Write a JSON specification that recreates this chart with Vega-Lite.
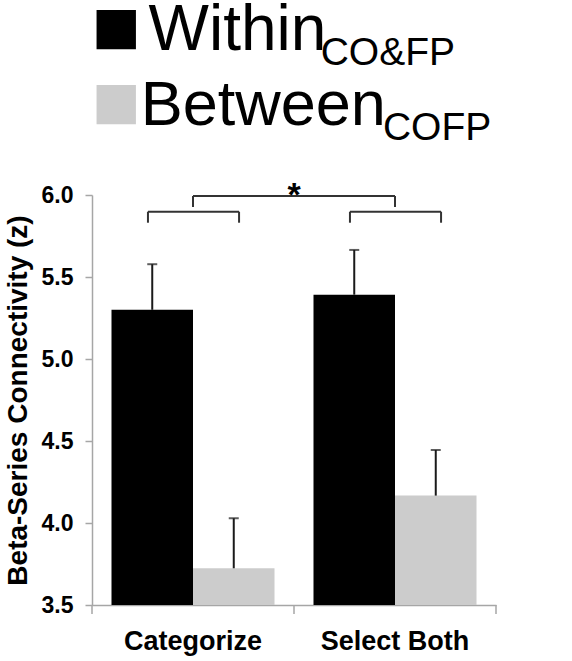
{
  "$schema": "https://vega.github.io/schema/vega-lite/v6.json",
  "width": 404,
  "height": 410,
  "autosize": {"type": "none"},
  "padding": {"left": 92, "top": 195, "right": 76, "bottom": 56},
  "background": "white",
  "config": {
    "view": {"stroke": null},
    "font": "Liberation Sans",
    "axisY": {
      "domainColor": "#a6a6a6",
      "domainWidth": 1.5,
      "tickColor": "#a6a6a6",
      "tickWidth": 1.5,
      "tickSize": 7,
      "labelFontSize": 23,
      "labelFontWeight": "bold",
      "labelColor": "#000000",
      "labelPadding": 12,
      "grid": false,
      "titleFontSize": 28,
      "titleFontWeight": "bold",
      "titleColor": "#000000",
      "titlePadding": 9
    },
    "axisX": {
      "domainColor": "#a6a6a6",
      "domainWidth": 1.5,
      "ticks": false,
      "labelFontSize": 27,
      "labelFontWeight": "bold",
      "labelColor": "#000000",
      "labelPadding": 23,
      "labelAngle": 0,
      "grid": false
    }
  },
  "datasets": {
    "bars": [
      {"task": "Categorize", "cond": "Within", "mean": 5.30, "hi": 5.578},
      {"task": "Categorize", "cond": "Between", "mean": 3.724, "hi": 4.029},
      {"task": "Select Both", "cond": "Within", "mean": 5.392, "hi": 5.665},
      {"task": "Select Both", "cond": "Between", "mean": 4.167, "hi": 4.445}
    ],
    "brackets": [
      {"x": 0.277, "x2": 0.728, "y": 5.898, "y2": 5.898},
      {"x": 0.277, "x2": 0.277, "y": 5.898, "y2": 5.831},
      {"x": 0.728, "x2": 0.728, "y": 5.898, "y2": 5.831},
      {"x": 1.277, "x2": 1.728, "y": 5.898, "y2": 5.898},
      {"x": 1.277, "x2": 1.277, "y": 5.898, "y2": 5.831},
      {"x": 1.728, "x2": 1.728, "y": 5.898, "y2": 5.831},
      {"x": 0.5, "x2": 1.5, "y": 5.994, "y2": 5.994},
      {"x": 0.5, "x2": 0.5, "y": 5.994, "y2": 5.927},
      {"x": 1.5, "x2": 1.5, "y": 5.994, "y2": 5.927}
    ],
    "xticks": [
      {"x": 0, "y": 3.5, "y2": 3.445},
      {"x": 1, "y": 3.5, "y2": 3.445},
      {"x": 2, "y": 3.5, "y2": 3.445}
    ]
  },
  "layer": [
    {
      "data": {"name": "bars"},
      "encoding": {
        "x": {
          "field": "task",
          "type": "nominal",
          "sort": ["Categorize", "Select Both"],
          "title": null,
          "scale": {"paddingInner": 0.193, "paddingOuter": 0.0965}
        },
        "xOffset": {
          "field": "cond",
          "type": "nominal",
          "sort": ["Within", "Between"],
          "scale": {"paddingInner": 0, "paddingOuter": 0}
        }
      },
      "layer": [
        {
          "mark": {"type": "bar"},
          "encoding": {
            "y": {
              "field": "mean",
              "type": "quantitative",
              "title": "Beta-Series Connectivity (z)",
              "scale": {"domain": [3.5, 6.0], "nice": false, "zero": false},
              "axis": {"values": [3.5, 4.0, 4.5, 5.0, 5.5, 6.0], "format": ".1f"}
            },
            "y2": {"datum": 3.5},
            "color": {
              "field": "cond",
              "type": "nominal",
              "scale": {"domain": ["Within", "Between"], "range": ["#000000", "#cccccc"]},
              "legend": null
            }
          }
        },
        {
          "mark": {"type": "rule", "color": "#1a1a1a", "strokeWidth": 2},
          "encoding": {
            "y": {"field": "mean", "type": "quantitative", "scale": {"domain": [3.5, 6.0], "nice": false, "zero": false}},
            "y2": {"field": "hi"}
          }
        },
        {
          "mark": {"type": "tick", "color": "#1a1a1a", "thickness": 2, "size": 10, "orient": "horizontal"},
          "encoding": {
            "y": {"field": "hi", "type": "quantitative", "scale": {"domain": [3.5, 6.0], "nice": false, "zero": false}}
          }
        }
      ]
    },
    {
      "layer": [
        {
          "data": {"name": "brackets"},
          "mark": {"type": "rule", "color": "#333333", "strokeWidth": 2},
          "encoding": {
            "x": {"field": "x", "type": "quantitative", "scale": {"domain": [0, 2], "nice": false, "zero": false}, "axis": null},
            "x2": {"field": "x2"},
            "y": {"field": "y", "type": "quantitative", "scale": {"domain": [3.5, 6.0], "nice": false, "zero": false}},
            "y2": {"field": "y2"}
          }
        },
        {
          "data": {"name": "xticks"},
          "mark": {"type": "rule", "color": "#a6a6a6", "strokeWidth": 1.5},
          "encoding": {
            "x": {"field": "x", "type": "quantitative", "scale": {"domain": [0, 2], "nice": false, "zero": false}, "axis": null},
            "y": {"field": "y", "type": "quantitative", "scale": {"domain": [3.5, 6.0], "nice": false, "zero": false}},
            "y2": {"field": "y2"}
          }
        },
        {
          "data": {"values": [{"t": "*"}]},
          "mark": {"type": "text", "fontSize": 34, "fontWeight": "bold", "align": "center", "baseline": "alphabetic", "color": "#000000"},
          "encoding": {
            "x": {"datum": 1, "type": "quantitative", "scale": {"domain": [0, 2], "nice": false, "zero": false}, "axis": null},
            "y": {"datum": 5.93, "type": "quantitative", "scale": {"domain": [3.5, 6.0], "nice": false, "zero": false}},
            "text": {"field": "t"}
          }
        },
        {
          "data": {"values": [{"cond": "Within"}]},
          "mark": {"type": "square", "size": 1550, "filled": true, "opacity": 1, "color": "#000000"},
          "encoding": {
            "x": {"datum": 0.12, "type": "quantitative", "scale": {"domain": [0, 2], "nice": false, "zero": false}, "axis": null},
            "y": {"datum": 7.008, "type": "quantitative", "scale": {"domain": [3.5, 6.0], "nice": false, "zero": false}}
          }
        },
        {
          "data": {"values": [{"cond": "Between"}]},
          "mark": {"type": "square", "size": 1550, "filled": true, "opacity": 1, "color": "#cccccc"},
          "encoding": {
            "x": {"datum": 0.12, "type": "quantitative", "scale": {"domain": [0, 2], "nice": false, "zero": false}, "axis": null},
            "y": {"datum": 6.551, "type": "quantitative", "scale": {"domain": [3.5, 6.0], "nice": false, "zero": false}}
          }
        },
        {
          "data": {"values": [{"t": "Within"}]},
          "mark": {"type": "text", "fontSize": 64, "align": "left", "baseline": "alphabetic", "color": "#000000"},
          "encoding": {
            "x": {"datum": 0.28, "type": "quantitative", "scale": {"domain": [0, 2], "nice": false, "zero": false}, "axis": null},
            "y": {"datum": 6.884, "type": "quantitative", "scale": {"domain": [3.5, 6.0], "nice": false, "zero": false}},
            "text": {"field": "t"}
          }
        },
        {
          "data": {"values": [{"t": "CO&FP"}]},
          "mark": {"type": "text", "fontSize": 39, "align": "left", "baseline": "alphabetic", "color": "#000000"},
          "encoding": {
            "x": {"datum": 1.132, "type": "quantitative", "scale": {"domain": [0, 2], "nice": false, "zero": false}, "axis": null},
            "y": {"datum": 6.793, "type": "quantitative", "scale": {"domain": [3.5, 6.0], "nice": false, "zero": false}},
            "text": {"field": "t"}
          }
        },
        {
          "data": {"values": [{"t": "Between"}]},
          "mark": {"type": "text", "fontSize": 63, "align": "left", "baseline": "alphabetic", "color": "#000000"},
          "encoding": {
            "x": {"datum": 0.241, "type": "quantitative", "scale": {"domain": [0, 2], "nice": false, "zero": false}, "axis": null},
            "y": {"datum": 6.427, "type": "quantitative", "scale": {"domain": [3.5, 6.0], "nice": false, "zero": false}},
            "text": {"field": "t"}
          }
        },
        {
          "data": {"values": [{"t": "COFP"}]},
          "mark": {"type": "text", "fontSize": 39, "align": "left", "baseline": "alphabetic", "color": "#000000"},
          "encoding": {
            "x": {"datum": 1.44, "type": "quantitative", "scale": {"domain": [0, 2], "nice": false, "zero": false}, "axis": null},
            "y": {"datum": 6.335, "type": "quantitative", "scale": {"domain": [3.5, 6.0], "nice": false, "zero": false}},
            "text": {"field": "t"}
          }
        }
      ]
    }
  ],
  "resolve": {"scale": {"x": "independent"}}
}
